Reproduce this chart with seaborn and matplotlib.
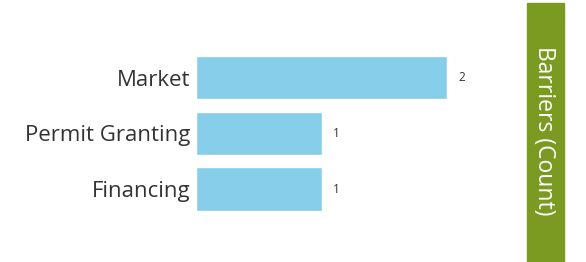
import matplotlib.pyplot as plt
import seaborn as sns
import pandas as pd

categories = ['Market', 'Permit Granting', 'Financing']
counts = [2, 1, 1]
panel_title = 'Barriers (Count)'

df = pd.DataFrame({'barrier': categories, 'count': counts})

sns.set_style('white')
plt.rcParams['font.family'] = ['Open Sans', 'DejaVu Sans']

fig = plt.figure(figsize=(5.86, 2.62), dpi=100)
ax = fig.add_axes([0.3345, 0.172, 0.4283, 0.6386])

sns.barplot(data=df, x='count', y='barrier', orient='h', color='#87CEEB',
            saturation=1, width=0.78, ax=ax)

ax.set_xlim(0, 2)
ax.set_ylim(2.5, -0.5)
ax.set_xlabel('')
ax.set_ylabel('')
ax.set_xticks([])
ax.tick_params(axis='y', length=0, pad=4, labelsize=16, labelcolor='#333333')
sns.despine(ax=ax, left=True, bottom=True)

# value labels
for i, v in enumerate(counts):
    ax.text(v + 0.12, i, str(v), va='center', ha='center', fontsize=8.5,
            color='#333333', clip_on=False)

# side title band
fig.patches.append(plt.Rectangle((0.899, 0.0), 0.063, 0.989,
                                 transform=fig.transFigure, color='#7A9A22',
                                 zorder=0))
fig.text(0.929, 0.5, panel_title, rotation=270, ha='center', va='center',
         color='white', fontsize=16.5)

plt.savefig('out.png', dpi=100)
plt.close()
